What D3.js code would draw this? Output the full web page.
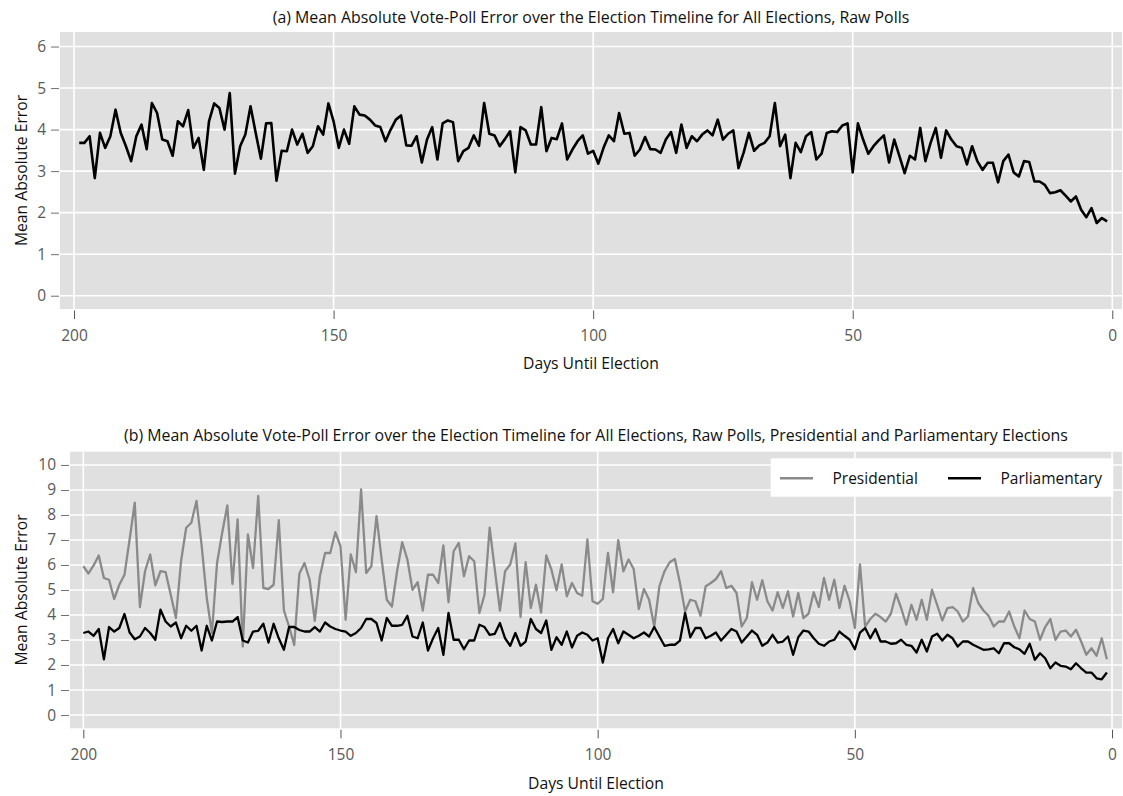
<!DOCTYPE html>
<html>
<head>
<meta charset="utf-8">
<script src="https://cdn.jsdelivr.net/npm/d3@7"></script>
<style>
  body { margin: 0; background: #fff; }
  text { font-family: "Open Sans", sans-serif; }
</style>
</head>
<body>
<svg id="chart" width="1123" height="796"></svg>
<script>
// Days until election (x values)
const daysAll = d3.range(199, 0, -1)   // 199 ... 1
const daysType = d3.range(200, 0, -1)  // 200 ... 1

// (a) all elections, raw polls -- day 199 down to day 1
const allRaw = [
  3.68, 3.68, 3.84, 2.83, 3.92, 3.56, 3.84, 4.48, 3.92, 3.60,
  3.24, 3.84, 4.12, 3.53, 4.64, 4.40, 3.76, 3.72, 3.37, 4.20,
  4.08, 4.47, 3.56, 3.80, 3.03, 4.20, 4.63, 4.52, 4.00, 4.88,
  2.94, 3.60, 3.88, 4.56, 3.92, 3.30, 4.15, 4.16, 2.77, 3.49,
  3.48, 4.00, 3.64, 3.90, 3.44, 3.60, 4.08, 3.88, 4.63, 4.20,
  3.56, 4.00, 3.66, 4.56, 4.36, 4.34, 4.24, 4.10, 4.06, 3.72,
  4.00, 4.24, 4.34, 3.62, 3.61, 3.84, 3.21, 3.76, 4.06, 3.28,
  4.15, 4.22, 4.18, 3.24, 3.48, 3.56, 3.86, 3.61, 4.64, 3.90,
  3.86, 3.60, 3.77, 3.96, 2.97, 4.06, 3.98, 3.64, 3.64, 4.54,
  3.48, 3.80, 3.77, 4.15, 3.28, 3.52, 3.72, 3.86, 3.42, 3.49,
  3.18, 3.56, 3.86, 3.72, 4.40, 3.90, 3.92, 3.37, 3.52, 3.82,
  3.53, 3.52, 3.44, 3.76, 3.94, 3.44, 4.12, 3.56, 3.84, 3.72,
  3.88, 3.98, 3.86, 4.24, 3.76, 3.90, 3.98, 3.07, 3.45, 3.92,
  3.49, 3.62, 3.68, 3.84, 4.64, 3.60, 3.88, 2.83, 3.68, 3.46,
  3.84, 3.94, 3.28, 3.42, 3.92, 3.96, 3.94, 4.10, 4.15, 2.97,
  4.15, 3.76, 3.42, 3.60, 3.74, 3.86, 3.21, 3.76, 3.36, 2.95,
  3.37, 3.28, 4.04, 3.24, 3.68, 4.04, 3.32, 3.98, 3.76, 3.60,
  3.56, 3.16, 3.60, 3.24, 3.03, 3.20, 3.20, 2.73, 3.24, 3.40,
  2.97, 2.87, 3.24, 3.22, 2.75, 2.75, 2.67, 2.47, 2.49, 2.54,
  2.41, 2.27, 2.39, 2.07, 1.89, 2.11, 1.75, 1.87, 1.79
]

// (b) presidential elections -- day 200 down to day 1
const presidential = [
  5.95, 5.66, 5.98, 6.38, 5.48, 5.41, 4.64, 5.21, 5.61, 7.02,
  8.49, 4.32, 5.75, 6.42, 5.19, 5.75, 5.71, 4.81, 3.88, 6.15,
  7.49, 7.69, 8.56, 6.78, 4.68, 3.28, 6.08, 7.29, 8.38, 5.24,
  7.82, 2.74, 7.22, 5.88, 8.76, 5.08, 5.04, 5.21, 7.79, 4.18,
  3.54, 2.80, 5.65, 6.08, 5.41, 3.77, 5.55, 6.48, 6.48, 7.31,
  6.75, 3.81, 6.42, 5.71, 9.02, 5.68, 5.95, 7.95, 6.22, 4.61,
  4.34, 5.75, 6.91, 6.22, 5.01, 5.31, 4.18, 5.61, 5.61, 5.28,
  6.78, 4.51, 6.55, 6.88, 5.55, 6.35, 6.15, 4.08, 4.81, 7.49,
  5.82, 4.18, 5.75, 6.02, 6.86, 3.92, 6.11, 4.28, 5.21, 4.10,
  6.38, 5.82, 4.99, 6.02, 4.75, 5.28, 4.88, 4.77, 7.02, 4.55,
  4.45, 4.64, 6.48, 4.91, 6.99, 5.75, 6.22, 5.84, 4.24, 5.04,
  4.61, 3.54, 5.15, 5.75, 6.11, 6.24, 5.28, 4.14, 4.61, 4.55,
  3.97, 5.15, 5.28, 5.44, 5.75, 5.08, 5.17, 4.88, 3.54, 3.88,
  5.31, 4.61, 5.39, 4.55, 4.18, 4.91, 4.28, 4.95, 3.94, 4.88,
  3.88, 4.05, 4.91, 4.32, 5.48, 4.61, 5.41, 4.28, 5.17, 4.55,
  3.48, 6.02, 3.54, 3.84, 4.05, 3.92, 3.74, 4.05, 4.85, 4.28,
  3.61, 4.41, 3.81, 4.61, 3.81, 5.01, 4.41, 3.78, 4.28, 4.32,
  4.14, 3.74, 3.94, 5.08, 4.48, 4.18, 3.97, 3.54, 3.74, 3.74,
  4.14, 3.54, 3.07, 4.18, 3.84, 3.74, 3.01, 3.52, 3.84, 3.01,
  3.34, 3.38, 3.14, 3.41, 2.94, 2.41, 2.67, 2.37, 3.07, 2.23
]

// (b) parliamentary elections -- day 200 down to day 1
const parliamentary = [
  3.28, 3.34, 3.17, 3.44, 2.23, 3.52, 3.34, 3.48, 4.04, 3.30,
  3.03, 3.14, 3.48, 3.28, 3.01, 4.21, 3.74, 3.54, 3.70, 3.07,
  3.57, 3.37, 3.57, 2.58, 3.57, 2.98, 3.74, 3.72, 3.74, 3.74,
  3.92, 2.98, 2.90, 3.34, 3.37, 3.65, 2.90, 3.65, 3.07, 2.61,
  3.52, 3.52, 3.40, 3.34, 3.34, 3.52, 3.34, 3.70, 3.54, 3.44,
  3.38, 3.34, 3.17, 3.28, 3.48, 3.84, 3.84, 3.68, 2.98, 3.88,
  3.57, 3.57, 3.61, 3.97, 3.14, 3.07, 3.70, 2.58, 3.07, 3.48,
  2.41, 4.08, 3.01, 3.01, 2.63, 2.98, 2.98, 3.61, 3.52, 3.21,
  3.25, 3.68, 3.07, 2.77, 3.28, 2.77, 2.94, 3.84, 3.44, 3.28,
  3.78, 2.61, 3.11, 2.81, 3.34, 2.70, 3.17, 3.30, 3.21, 2.98,
  3.07, 2.10, 3.07, 3.44, 2.87, 3.34, 3.21, 3.07, 3.17, 3.30,
  3.14, 3.52, 3.14, 2.77, 2.81, 2.81, 2.98, 4.08, 3.11, 3.48,
  3.48, 3.07, 3.17, 3.30, 2.98, 3.21, 3.44, 3.34, 2.90, 3.14,
  3.38, 3.21, 2.77, 2.90, 3.21, 2.90, 2.94, 3.14, 2.41, 3.11,
  3.38, 3.34, 3.07, 2.85, 2.77, 2.94, 3.01, 3.34, 3.17, 3.01,
  2.63, 3.30, 3.48, 3.07, 3.44, 2.94, 2.94, 2.85, 2.87, 3.01,
  2.81, 2.77, 2.50, 3.01, 2.54, 3.14, 3.25, 2.98, 3.21, 3.07,
  2.74, 2.94, 2.94, 2.81, 2.71, 2.61, 2.63, 2.67, 2.47, 2.87,
  2.87, 2.71, 2.63, 2.45, 2.85, 2.21, 2.47, 2.27, 1.87, 2.10,
  1.97, 1.94, 1.83, 2.07, 1.87, 1.70, 1.70, 1.47, 1.43, 1.70
]

const xTickValues = [200, 150, 100, 50, 0]
const yTicksA = [0, 1, 2, 3, 4, 5, 6]
const yTicksB = [0, 1, 2, 3, 4, 5, 6, 7, 8, 9, 10]

const titleA = "(a) Mean Absolute Vote-Poll Error over the Election Timeline for All Elections, Raw Polls"
const titleB = "(b) Mean Absolute Vote-Poll Error over the Election Timeline for All Elections, Raw Polls, Presidential and Parliamentary Elections"
const xTitle = "Days Until Election"
const yTitle = "Mean Absolute Error"

const svg = d3.select("#chart")

function drawPanel(p) {
    const xScale = d3.scaleLinear().domain(p.xDomain).range([p.left, p.right])
    const yScale = d3.scaleLinear().domain(p.yDomain).range([p.bottom, p.top])

    const g = svg.append("g")

    // grey plotting area
    g.append("rect")
        .attr("x", p.left)
        .attr("y", p.top)
        .attr("width", p.right - p.left)
        .attr("height", p.bottom - p.top)
        .attr("fill", "#e0e0e0")

    // white grid
    g.selectAll(".hgrid")
        .data(p.yTicks)
        .join("line")
        .attr("x1", p.left).attr("x2", p.right)
        .attr("y1", d => yScale(d)).attr("y2", d => yScale(d))
        .attr("stroke", "#fff")
        .attr("stroke-width", 1.6)

    g.selectAll(".vgrid")
        .data(xTickValues)
        .join("line")
        .attr("x1", d => xScale(d)).attr("x2", d => xScale(d))
        .attr("y1", p.top).attr("y2", p.bottom)
        .attr("stroke", "#fff")
        .attr("stroke-width", 1.6)

    // y axis
    const yAxis = g.append("g")
        .attr("transform", `translate(${p.left - 1},0)`)
        .call(d3.axisLeft(yScale)
            .tickValues(p.yTicks)
            .tickFormat(d3.format("d"))
            .tickSize(8)
            .tickPadding(5))
    yAxis.select(".domain").remove()
    yAxis.selectAll("line").attr("stroke", "#707070")
    yAxis.selectAll("text")
        .attr("fill", "#595959")
        .style("font-size", "15.5px")
        .style("font-family", "'Open Sans', sans-serif")

    // x axis
    const xAxis = g.append("g")
        .attr("transform", `translate(0,${p.bottom + 1.5})`)
        .call(d3.axisBottom(xScale).tickValues(xTickValues).tickSize(8.5).tickPadding(11))
    xAxis.select(".domain").remove()
    xAxis.selectAll("line").attr("stroke", "#555")
    xAxis.selectAll("text")
        .attr("fill", "#595959")
        .style("font-size", "15.5px")
        .style("font-family", "'Open Sans', sans-serif")

    // titles
    g.append("text")
        .attr("x", (p.left + p.right) / 2)
        .attr("y", p.titleY)
        .attr("text-anchor", "middle")
        .attr("fill", "#111")
        .style("font-size", "15.9px")
        .text(p.title)

    g.append("text")
        .attr("x", (p.left + p.right) / 2)
        .attr("y", p.xTitleY)
        .attr("text-anchor", "middle")
        .attr("fill", "#111")
        .style("font-size", "15.7px")
        .text(xTitle)

    g.append("text")
        .attr("transform", `translate(27,${(p.top + p.bottom) / 2}) rotate(-90)`)
        .attr("text-anchor", "middle")
        .attr("fill", "#111")
        .style("font-size", "15.7px")
        .text(yTitle)

    // data lines
    const lineGenerator = d3.line()
        .x(d => xScale(d[0]))
        .y(d => yScale(d[1]))

    p.series.forEach(s => {
        g.append("path")
            .datum(d3.zip(s.days, s.values))
            .attr("d", lineGenerator)
            .attr("fill", "none")
            .attr("stroke", s.color)
            .attr("stroke-width", s.width)
            .attr("stroke-linejoin", "round")
    })

    return { xScale, yScale, g }
}

drawPanel({
    left: 60, right: 1122, top: 32, bottom: 309,
    xDomain: [202.7, -1.87],
    yDomain: [-0.32, 6.35],
    yTicks: yTicksA,
    title: titleA, titleY: 23, xTitleY: 369,
    series: [
        { days: daysAll, values: allRaw, color: "#000", width: 2.6 }
    ]
})

const panelB = drawPanel({
    left: 70, right: 1122, top: 451.7, bottom: 728.3,
    xDomain: [202.59, -1.94],
    yDomain: [-0.53, 10.53],
    yTicks: yTicksB,
    title: titleB, titleY: 441, xTitleY: 788.5,
    series: [
        { days: daysType, values: presidential, color: "#8a8a8a", width: 2.3 },
        { days: daysType, values: parliamentary, color: "#000", width: 2.3 }
    ]
})

// legend for panel (b)
const legendItems = [
    { label: "Presidential", color: "#8a8a8a", x: 780 },
    { label: "Parliamentary", color: "#000", x: 948 }
]
const legend = panelB.g.append("g")
legend.append("rect")
    .attr("x", 770.7).attr("y", 458.3)
    .attr("width", 342.6).attr("height", 38.4)
    .attr("fill", "#fff")
legendItems.forEach(item => {
    legend.append("line")
        .attr("x1", item.x).attr("x2", item.x + 33)
        .attr("y1", 478.3).attr("y2", 478.3)
        .attr("stroke", item.color)
        .attr("stroke-width", 2.6)
    legend.append("text")
        .attr("x", item.x + 52.5)
        .attr("y", 484.3)
        .attr("fill", "#111")
        .style("font-size", "15.5px")
        .text(item.label)
})
</script>
</body>
</html>
